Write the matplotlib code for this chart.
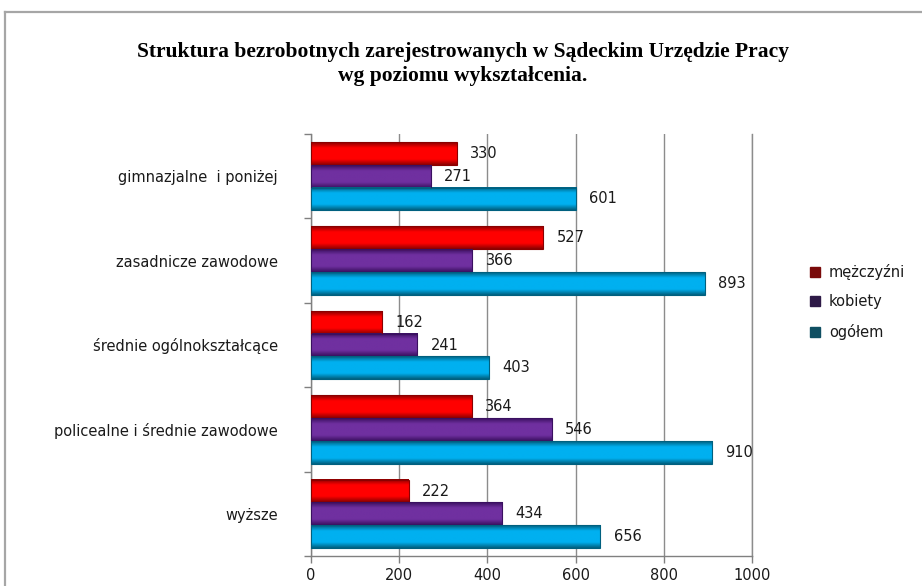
"""
Struktura bezrobotnych wg poziomu wykształcenia — poziomy wykres słupkowy.
"""

import matplotlib
matplotlib.use("Agg")
import matplotlib.pyplot as plt
import numpy as np
from matplotlib.colors import LinearSegmentedColormap
from matplotlib.lines import Line2D
from matplotlib.patches import Patch

CATEGORIES = [
    "gimnazjalne  i poniżej",
    "zasadnicze zawodowe",
    "średnie ogólnokształcące",
    "policealne i średnie zawodowe",
    "wyższe",
]
MEZCZYZNI = [330, 527, 162, 364, 222]
KOBIETY   = [271, 366, 241, 546, 434]
OGOLEM    = [601, 893, 403, 910, 656]

SERIES_NAMES = ["mężczyźni", "kobiety", "ogółem"]
BAR_COLORS   = ["#ff0000", "#7030a0", "#00b0f0"]
EDGE_COLORS  = ["#8a0000", "#3a1060", "#00607f"]
LEGEND_COLORS = ["#7a0a0a", "#2e1a47", "#0f4f62"]
XTICKS = [0, 200, 400, 600, 800, 1000]

TITLE = ("Struktura bezrobotnych zarejestrowanych w Sądeckim Urzędzie Pracy\n"
         "wg poziomu wykształcenia.")

plt.rcParams["font.family"] = ["DejaVu Sans"]
TEXT_C = "#1a1a1a"


def shaded_bar(ax, y, value, h, color, edge):
    # gradient across bar height: dark edge -> colour -> dark edge
    cmap = LinearSegmentedColormap.from_list("g", [edge, color, color, color, edge])
    grad = np.linspace(0, 1, 64).reshape(-1, 1)
    ax.imshow(grad, cmap=cmap, aspect="auto", interpolation="bilinear",
              extent=(0, value, y + h / 2, y - h / 2), zorder=3)
    ax.add_patch(plt.Rectangle((0, y - h / 2), value, h, fill=False,
                               edgecolor=edge, linewidth=0.8, zorder=4))


def main() -> None:
    fig = plt.figure(figsize=(9.22, 5.86), dpi=100)
    ax = fig.add_axes([311 / 922, 1 - 556 / 586, 441 / 922, 422 / 586])

    # outer chart frame
    fx, fy = 5 / 922, 1 - 12 / 586
    fig.add_artist(Line2D([fx, fx], [0, fy], color="#a6a6a6", lw=1.6))
    fig.add_artist(Line2D([fx, 1], [fy, fy], color="#a6a6a6", lw=1.6))

    fig.text(0.502, 1 - 64 / 586, TITLE, ha="center", va="center",
             fontsize=15.5, fontweight="bold", family="Liberation Serif",
             color="black", linespacing=1.2)

    n = len(CATEGORIES)
    y = np.arange(n)
    h = 0.27
    offsets = [-h, 0, h]
    series = [MEZCZYZNI, KOBIETY, OGOLEM]

    for vals, off, c, e in zip(series, offsets, BAR_COLORS, EDGE_COLORS):
        for yi, v in zip(y, vals):
            shaded_bar(ax, yi + off, v, h, c, e)
            ax.text(v + 30, yi + off, str(v), ha="left", va="center",
                    fontsize=10.5, color=TEXT_C, zorder=5)

    ax.set_xlim(0, 1000)
    ax.set_ylim(n - 0.5, -0.5)
    ax.set_xticks(XTICKS)
    ax.set_xticklabels([str(t) for t in XTICKS], fontsize=10.5, color=TEXT_C)
    ax.set_yticks(y)
    ax.set_yticklabels(CATEGORIES, fontsize=10.5, color=TEXT_C)
    ax.set_yticks(np.arange(n + 1) - 0.5, minor=True)
    ax.tick_params(axis="y", which="major", length=0, pad=24)
    ax.tick_params(axis="y", which="minor", length=5, color="#808080", width=1)
    ax.tick_params(axis="x", length=5, color="#808080", width=1, pad=4)

    ax.grid(axis="x", color="#8c8c8c", linewidth=1, zorder=0)
    ax.axvline(XTICKS[-1], color="#8c8c8c", linewidth=1, zorder=0, clip_on=False)
    ax.set_axisbelow(True)
    for s in ["top", "right"]:
        ax.spines[s].set_visible(False)
    for s in ["left", "bottom"]:
        ax.spines[s].set_color("#808080")
        ax.spines[s].set_linewidth(1)

    handles = [Patch(facecolor=c, edgecolor=c) for c in LEGEND_COLORS]
    fig.legend(handles, SERIES_NAMES, loc="center left",
               bbox_to_anchor=(797 / 922, 1 - 302 / 586), frameon=False,
               fontsize=10.5, handlelength=0.7, handleheight=0.7,
               handletextpad=0.6, labelspacing=1.0, labelcolor=TEXT_C)

    fig.savefig("out.png", dpi=100)
    plt.close(fig)


if __name__ == "__main__":
    main()
